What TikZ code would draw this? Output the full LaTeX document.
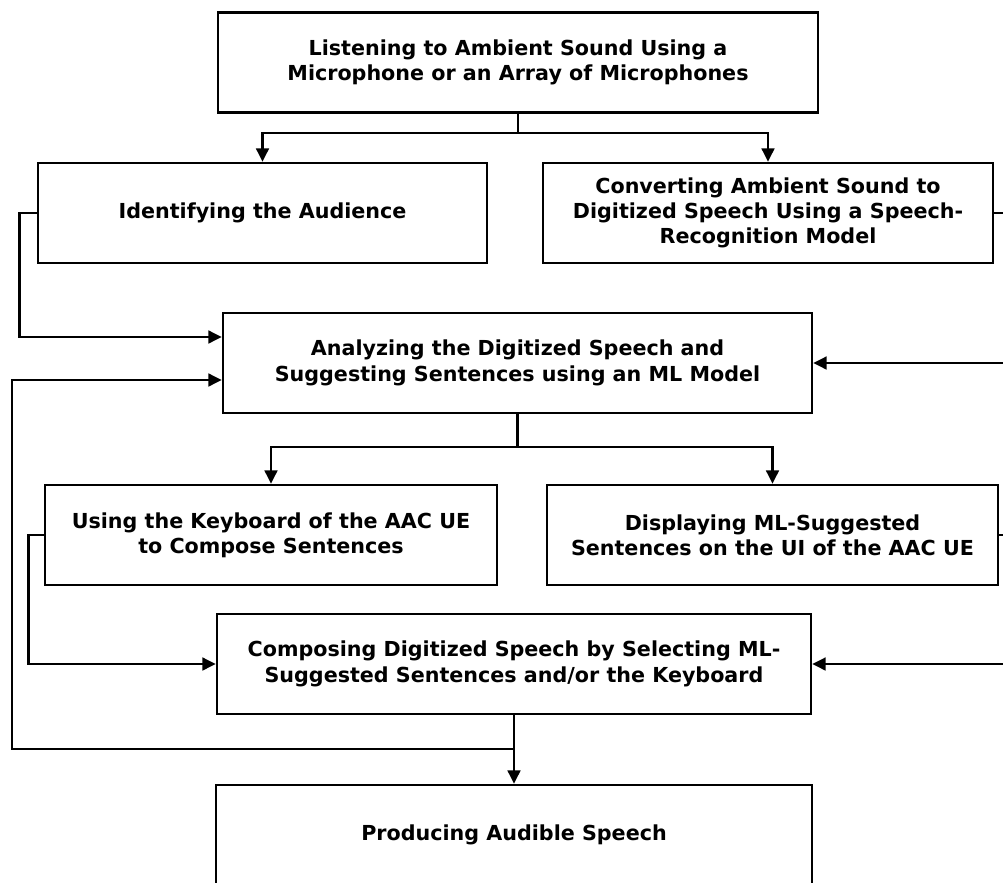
\documentclass[tikz,border=0pt]{standalone}
\usepackage{fontspec}
\setmainfont{DejaVu Sans}
\usetikzlibrary{arrows.meta,calc}

\begin{document}
\begin{tikzpicture}[x=0.75pt,y=-0.75pt,line width=1.9pt,
    box/.style={draw,rectangle,minimum height=75pt,align=center,inner sep=0pt,
        font=\bfseries\fontsize{15.5}{19}\selectfont},
    arr/.style={-{Triangle[length=10pt,width=9.5pt]}}]
    \useasboundingbox (0,0) rectangle (1003,882);

% boxes
    \node[box,minimum width=450pt] (listen) at (518,62.5) {Listening to Ambient Sound Using a\\Microphone or an Array of Microphones};
    \node[box,minimum width=336.75pt] (audience) at (262.5,213) {Identifying the Audience};
    \node[box,minimum width=337.5pt] (convert) at (768,213) {Converting Ambient Sound to\\Digitized Speech Using a Speech-\\Recognition Model};
    \node[box,minimum width=441.75pt] (analyze) at (517.5,363) {Analyzing the Digitized Speech and\\Suggesting Sentences using an ML Model};
    \node[box,minimum width=339pt] (keyboard) at (271,535) {Using the Keyboard of the AAC UE\\to Compose Sentences};
    \node[box,minimum width=338.25pt] (display) at (772.5,535) {Displaying ML-Suggested\\Sentences on the UI of the AAC UE};
    \node[box,minimum width=445.5pt] (compose) at (514,664) {Composing Digitized Speech by Selecting ML-\\Suggested Sentences and/or the Keyboard};
    \node[box,minimum width=447pt] (produce) at (514,835) {Producing Audible Speech};

% split points and free ends
    \coordinate (S1) at (listen.south |- 0,133);
    \coordinate (S2) at (analyze.south |- 0,447);
    \coordinate (FB) at (12,749);
    \coordinate (R1) at (1003,213);
    \coordinate (R2) at (1003,363);
    \coordinate (R3) at (1003,535);
    \coordinate (R4) at (1003,664);

% first split
    \draw (listen.south) -- (S1);
    \draw[arr] (S1) -| (audience.north);
    \draw[arr] (S1) -| (convert.north);

% into the analysis
    \draw[arr] (audience.west) -- ++(-17,0) |- ($(analyze.west)+(0,-26)$);
    \draw (convert.east) -- (R1);
    \draw[arr] (R2) -- (analyze.east);

% second split
    \draw (analyze.south) -- (S2);
    \draw[arr] (S2) -| (keyboard.north);
    \draw[arr] (S2) -| (display.north);

% into composing
    \draw[arr] (keyboard.west) -- ++(-15,0) |- (compose.west);
    \draw (display.east) -- (R3);
    \draw[arr] (R4) -- (compose.east);

% output and feedback
    \draw[arr] (compose.south) -- (produce.north);
    \draw[arr] (compose.south |- FB) -- (FB) |- ($(analyze.west)+(0,17)$);
\end{tikzpicture}
\end{document}
